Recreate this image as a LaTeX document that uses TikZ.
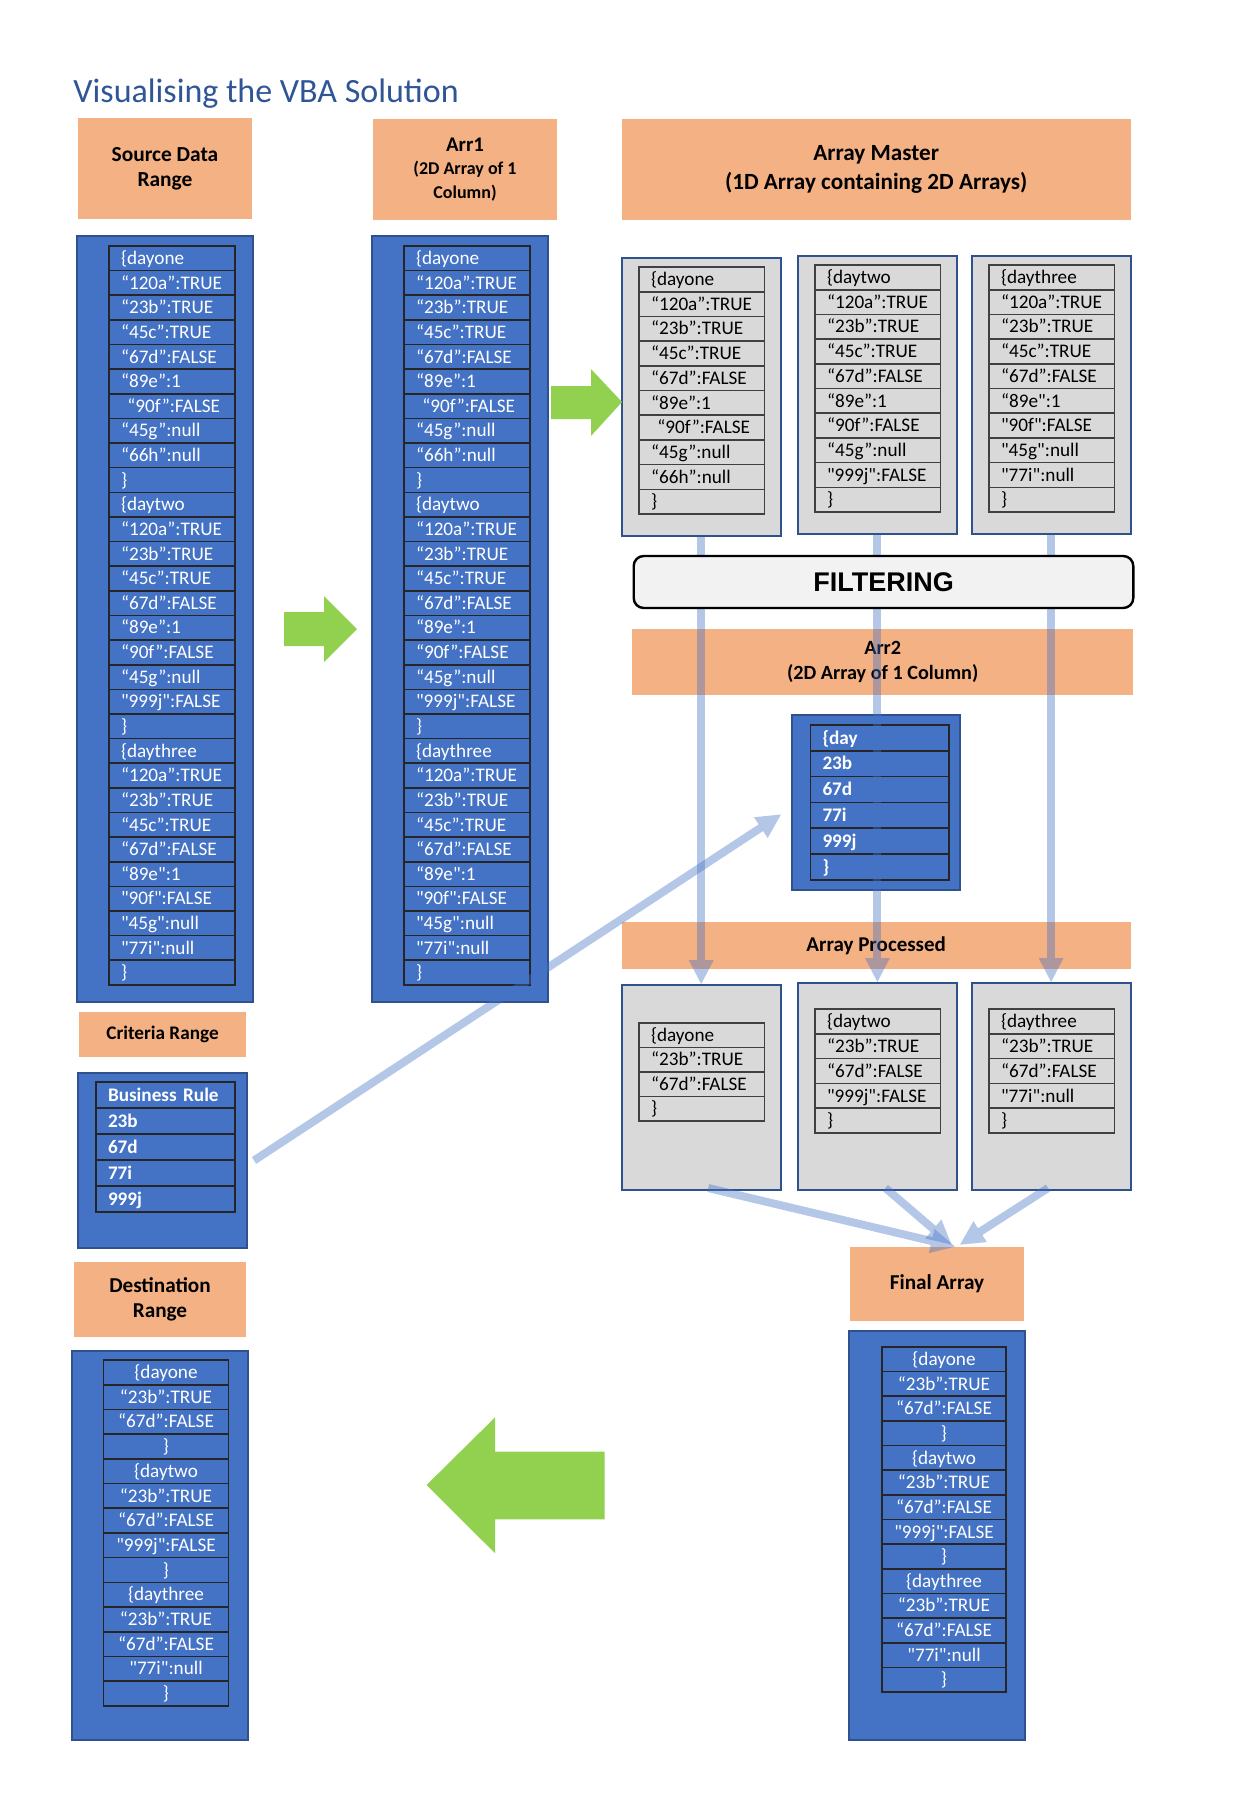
\documentclass[tikz,border=0pt]{standalone}
\usepackage{fontspec}
\setmainfont{Carlito}[Ligatures=TeXOff]
\newfontfamily\arialfont{Liberation Sans}
\usetikzlibrary{arrows.meta}
\definecolor{xlblue}{HTML}{4472C4}
\definecolor{xlborder}{HTML}{2F528F}
\definecolor{xlorange}{HTML}{F4B183}
\definecolor{xlgray}{HTML}{D9D9D9}
\definecolor{xlgreen}{HTML}{92D050}
\definecolor{xltitle}{HTML}{2F5597}
\definecolor{xlfilter}{HTML}{F2F2F2}
\tikzset{
  hdr/.style={rectangle, fill=xlorange, inner sep=0pt, align=center},
  bluebox/.style={rectangle, draw=xlborder, line width=1pt, fill=xlblue, inner sep=0pt},
  graybox/.style={bluebox, fill=xlgray},
  cell/.style={rectangle, draw=black!85, line width=0.8pt, outer sep=0pt, inner xsep=6pt, inner ysep=0pt, text height=6.7pt, text depth=0.5pt, align=left, font=\fontsize{9.6}{11}\selectfont},
  blcell/.style={cell, fill=xlblue, text=white, text width=#1},
  blbold/.style={blcell=#1, font=\fontsize{9.6}{11}\selectfont\bfseries},
  blcenter/.style={blcell=#1, inner xsep=2pt, align=center},
  grcell/.style={cell, fill=xlgray, draw=black!75, text=black, text width=#1},
  filterbox/.style={rectangle, rounded corners=5pt, draw=black, line width=1.2pt, fill=xlfilter, font=\arialfont\fontsize{13.5}{16}\selectfont\bfseries},
  flow/.style={draw=xlblue, line width=4pt, opacity=0.4, -{Triangle[width=12.5pt,length=12pt,line width=0pt]}},
  bigarrow/.style={fill=xlgreen},
}
\newcommand\rowtable[6]{%
  \foreach \txt [count=\k] in #6
    \node[#2, minimum height=#5*0.5pt, anchor=north west] (#1-\k) at (#3,{#4+(\k-1)*#5}) {\txt};
}
\newcommand\fullrows{\{dayone, “120a”:TRUE, “23b”:TRUE, “45c”:TRUE, “67d”:FALSE, “89e”:1, \ “90f”:FALSE, “45g”:null, “66h”:null, \},
  \{daytwo, “120a”:TRUE, “23b”:TRUE, “45c”:TRUE, “67d”:FALSE, “89e”:1, “90f”:FALSE, “45g”:null, "999j":FALSE, \},
  \{daythree, “120a”:TRUE, “23b”:TRUE, “45c”:TRUE, “67d”:FALSE, “89e":1, "90f":FALSE, "45g":null, "77i":null, \}}
\newcommand\amrowsA{\{dayone, “120a”:TRUE, “23b”:TRUE, “45c”:TRUE, “67d”:FALSE, “89e”:1, \ “90f”:FALSE, “45g”:null, “66h”:null, \}}
\newcommand\amrowsB{\{daytwo, “120a”:TRUE, “23b”:TRUE, “45c”:TRUE, “67d”:FALSE, “89e”:1, “90f”:FALSE, “45g”:null, "999j":FALSE, \}}
\newcommand\amrowsC{\{daythree, “120a”:TRUE, “23b”:TRUE, “45c”:TRUE, “67d”:FALSE, “89e":1, "90f":FALSE, "45g":null, "77i":null, \}}
\newcommand\aprowsA{\{dayone, “23b”:TRUE, “67d”:FALSE, \}}
\newcommand\aprowsB{\{daytwo, “23b”:TRUE, “67d”:FALSE, "999j":FALSE, \}}
\newcommand\aprowsC{\{daythree, “23b”:TRUE, “67d”:FALSE, "77i":null, \}}
\newcommand\finrows{\{dayone, “23b”:TRUE, “67d”:FALSE, \}, \{daytwo, “23b”:TRUE, “67d”:FALSE, "999j":FALSE, \},
  \{daythree, “23b”:TRUE, “67d”:FALSE, "77i":null, \}}
\newcommand\arrtworows{\{day, 23b, 67d, 77i, 999j, \}}
\newcommand\critrows{Business Rule, 23b, 67d, 77i, 999j}

\begin{document}
\begin{tikzpicture}[x=0.5pt, y=-0.5pt]
\useasboundingbox (0,0) rectangle (1232,1794);
\node[anchor=base west, inner sep=0pt, text=xltitle, font=\fontsize{17}{20}\selectfont] (title) at (73,102) {Visualising the VBA Solution};

\node[hdr, minimum width=87pt, minimum height=50.5pt, font=\fontsize{10.7}{12.5}\selectfont\bfseries] (srchdr) at (165,168.5) {Source Data\\Range};
\node[hdr, minimum width=92pt, minimum height=50.5pt, font=\fontsize{9}{11.75}\selectfont\bfseries] (arronehdr) at (465,169.5) {{\fontsize{10.4}{11.75}\selectfont Arr1}\\(2D Array of 1\\Column)};
\node[hdr, minimum width=254.4pt, minimum height=50.5pt, font=\fontsize{11.6}{14.5}\selectfont\bfseries] (amhdr) at (876.2,169.5) {Array Master\\(1D Array containing 2D Arrays)};

\node[bluebox, minimum width=88pt, minimum height=383pt] (srcbox) at (165,619) {};
\node[bluebox, minimum width=88pt, minimum height=383pt] (arronebox) at (460,619) {};
\rowtable{src}{blcell=51pt}{109}{246}{24.63}{\fullrows}
\rowtable{arrone}{blcell=51pt}{404}{246}{24.63}{\fullrows}

\node[graybox, minimum width=79.5pt, minimum height=139pt] (amA) at (701.2,397) {};
\node[graybox, minimum width=79.8pt, minimum height=139pt] (amB) at (877.4,395) {};
\node[graybox, minimum width=79.5pt, minimum height=139pt] (amC) at (1051.1,395) {};
\rowtable{amA}{grcell=50.7pt}{639}{267}{24.7}{\amrowsA}
\rowtable{amB}{grcell=50.7pt}{815}{265}{24.7}{\amrowsB}
\rowtable{amC}{grcell=50.7pt}{989}{265}{24.7}{\amrowsC}

\node[hdr, minimum width=250.6pt, minimum height=33pt, font=\fontsize{10.1}{12.5}\selectfont\bfseries] (arrtwohdr) at (882.7,662) {Arr2\\(2D Array of 1 Column)};
\node[bluebox, minimum width=84pt, minimum height=87.5pt] (arrtwobox) at (875.9,802.5) {};
\rowtable{arrtwo}{blbold=57.3pt}{810.5}{725}{25.8}{\arrtworows}

\node[hdr, minimum width=254.4pt, minimum height=23.5pt, font=\fontsize{10.5}{12}\selectfont\bfseries] (aphdr) at (876.2,945.5) {Array Processed};
\node[graybox, minimum width=79.5pt, minimum height=102.5pt] (apA) at (701.2,1087.5) {};
\node[graybox, minimum width=79.8pt, minimum height=103.5pt] (apB) at (877.4,1086.5) {};
\node[graybox, minimum width=79.5pt, minimum height=103.5pt] (apC) at (1051.1,1086.5) {};
\rowtable{apA}{grcell=50.7pt}{639}{1023}{24.5}{\aprowsA}
\rowtable{apB}{grcell=50.7pt}{815}{1009}{24.8}{\aprowsB}
\rowtable{apC}{grcell=50.7pt}{989}{1009}{24.8}{\aprowsC}

\node[hdr, minimum width=87pt, minimum height=37pt, font=\fontsize{10.6}{12}\selectfont\bfseries] (finhdr) at (937,1284) {Final Array};
\node[bluebox, minimum width=88pt, minimum height=204.5pt] (finbox) at (937,1535.5) {};
\rowtable{fin}{blcenter=58pt}{882}{1347}{24.64}{\finrows}

\node[hdr, minimum width=83.5pt, minimum height=22.5pt, font=\fontsize{9.6}{12}\selectfont\bfseries] (crithdr) at (162.5,1034.5) {Criteria Range};
\node[bluebox, minimum width=84.5pt, minimum height=87.5pt] (critbox) at (162.5,1160.5) {};
\rowtable{crit}{blbold=57.5pt}{96}{1082}{26}{\critrows}

\node[hdr, minimum width=86pt, minimum height=37.5pt, font=\fontsize{10.6}{12.5}\selectfont\bfseries] (dsthdr) at (160,1299.5) {Destination\\Range};
\node[bluebox, minimum width=88pt, minimum height=194.5pt] (dstbox) at (159.5,1545.5) {};
\rowtable{dst}{blcenter=58.4pt}{103.6}{1360}{24.7}{\finrows}

\fill[bigarrow] (284,612) -- (324,612) -- (324,596) -- (357,629) -- (324,662) -- (324,646) -- (284,646) -- cycle;
\fill[bigarrow] (551,386) -- (591,386) -- (591,369) -- (622,402) -- (591,436) -- (591,419) -- (551,419) -- cycle;
\fill[bigarrow] (604.6,1451.7) -- (495.1,1451.7) -- (495.1,1417.3) -- (426.6,1485) -- (495.1,1553.3) -- (495.1,1519.3) -- (604.6,1519.3) -- cycle;

\draw[flow] (amA.south) -- (apA.north);
\draw[flow] (amB.south) -- (apB.north);
\draw[flow] (amC.south) -- (apC.north);
\draw[flow] ([xshift=3pt]critbox.east) -- ([xshift=-5pt,yshift=-6pt]arrtwobox.west);
\draw[flow] ([xshift=3.5pt,yshift=1.5pt]apA.south) -- ([xshift=9pt]finhdr.north);
\draw[flow] ([xshift=4pt,yshift=1.5pt]apB.south) -- ([xshift=7.25pt,yshift=1pt]finhdr.north);
\draw[flow] ([xshift=-1.5pt,yshift=1.5pt]apC.south) -- ([xshift=11.5pt,yshift=1pt]finhdr.north);

\node[filterbox, minimum width=249.8pt, minimum height=26pt] (filter) at (883.5,582) {FILTERING};
\end{tikzpicture}
\end{document}
